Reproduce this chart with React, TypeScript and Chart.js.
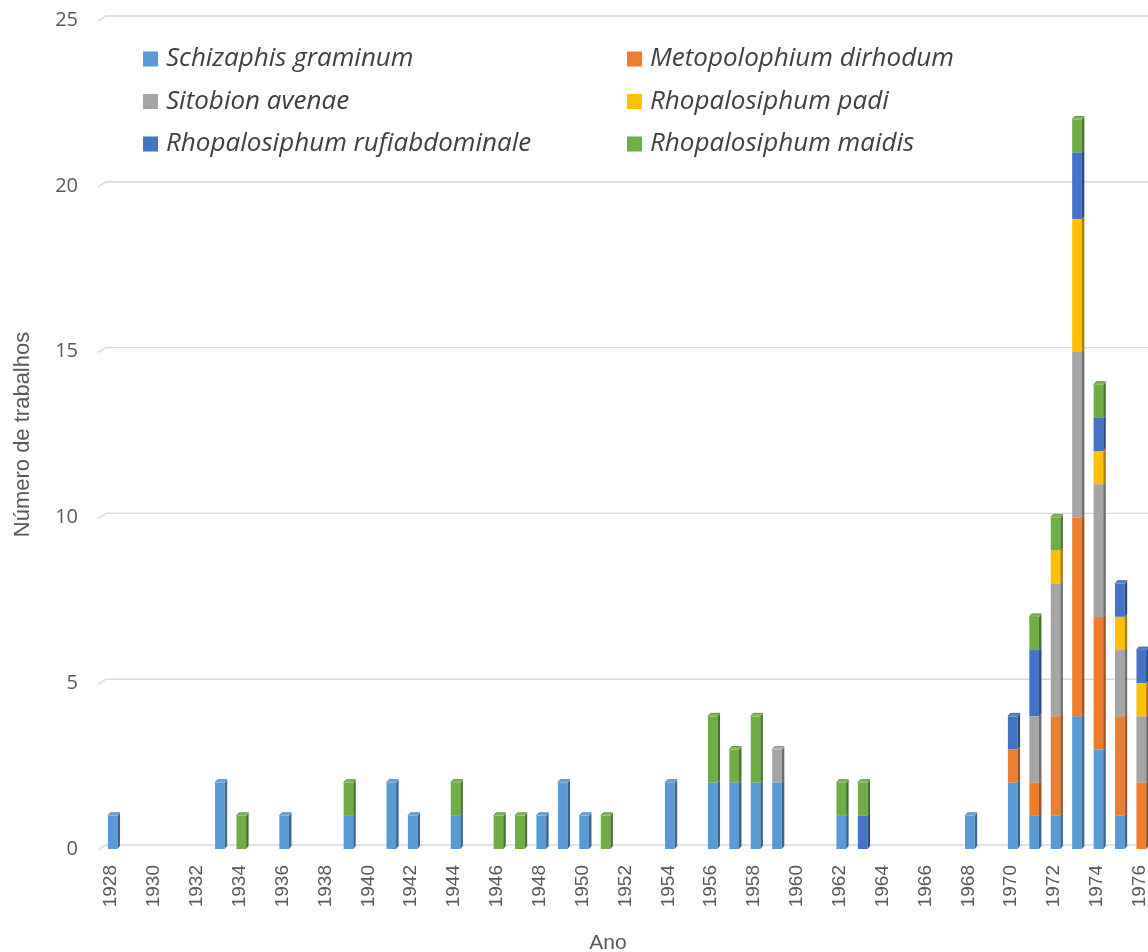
import React, { useEffect, useRef } from 'react';
import { Chart, registerables } from 'chart.js';

Chart.register(...registerables);

// Publication years, one category per year
const years = [
  '1928', '1929', '1930', '1931', '1932', '1933', '1934', '1935', '1936', '1937',
  '1938', '1939', '1940', '1941', '1942', '1943', '1944', '1945', '1946', '1947',
  '1948', '1949', '1950', '1951', '1952', '1953', '1954', '1955', '1956', '1957',
  '1958', '1959', '1960', '1961', '1962', '1963', '1964', '1965', '1966', '1967',
  '1968', '1969', '1970', '1971', '1972', '1973', '1974', '1975', '1976',
];

// Number of papers per aphid species and year (same order as years)
const schizaphisGraminum = [
  1, 0, 0, 0, 0, 2, 0, 0, 1, 0,
  0, 1, 0, 2, 1, 0, 1, 0, 0, 0,
  1, 2, 1, 0, 0, 0, 2, 0, 2, 2,
  2, 2, 0, 0, 1, 0, 0, 0, 0, 0,
  1, 0, 2, 1, 1, 4, 3, 1, 0,
];
const metopolophiumDirhodum = [
  0, 0, 0, 0, 0, 0, 0, 0, 0, 0,
  0, 0, 0, 0, 0, 0, 0, 0, 0, 0,
  0, 0, 0, 0, 0, 0, 0, 0, 0, 0,
  0, 0, 0, 0, 0, 0, 0, 0, 0, 0,
  0, 0, 1, 1, 3, 6, 4, 3, 2,
];
const sitobionAvenae = [
  0, 0, 0, 0, 0, 0, 0, 0, 0, 0,
  0, 0, 0, 0, 0, 0, 0, 0, 0, 0,
  0, 0, 0, 0, 0, 0, 0, 0, 0, 0,
  0, 1, 0, 0, 0, 0, 0, 0, 0, 0,
  0, 0, 0, 2, 4, 5, 4, 2, 2,
];
const rhopalosiphumPadi = [
  0, 0, 0, 0, 0, 0, 0, 0, 0, 0,
  0, 0, 0, 0, 0, 0, 0, 0, 0, 0,
  0, 0, 0, 0, 0, 0, 0, 0, 0, 0,
  0, 0, 0, 0, 0, 0, 0, 0, 0, 0,
  0, 0, 0, 0, 1, 4, 1, 1, 1,
];
const rhopalosiphumRufiabdominale = [
  0, 0, 0, 0, 0, 0, 0, 0, 0, 0,
  0, 0, 0, 0, 0, 0, 0, 0, 0, 0,
  0, 0, 0, 0, 0, 0, 0, 0, 0, 0,
  0, 0, 0, 0, 0, 1, 0, 0, 0, 0,
  0, 0, 1, 2, 0, 2, 1, 1, 1,
];
const rhopalosiphumMaidis = [
  0, 0, 0, 0, 0, 0, 1, 0, 0, 0,
  0, 1, 0, 0, 0, 0, 1, 0, 1, 1,
  0, 0, 0, 1, 0, 0, 0, 0, 2, 1,
  2, 0, 0, 0, 1, 1, 0, 0, 0, 0,
  0, 0, 0, 1, 1, 1, 1, 0, 0,
];

const speciesNames = [
  'Schizaphis graminum',
  'Metopolophium dirhodum',
  'Sitobion avenae',
  'Rhopalosiphum padi',
  'Rhopalosiphum rufiabdominale',
  'Rhopalosiphum maidis',
];
const speciesColors = ['#5b9bd5', '#ed7d31', '#a5a5a5', '#ffc000', '#4472c4', '#70ad47'];

const yTicks = { min: 0, max: 25, step: 5 };
const yTitle = 'Número de trabalhos';
const xTitle = 'Ano';

const DEPTH_X = 2.5;
const DEPTH_Y = 3;

function shade(hex: string, f: number): string {
  const n = parseInt(hex.slice(1), 16);
  const ch = (v: number) => Math.max(0, Math.min(255, Math.round(f >= 1 ? v + (255 - v) * (f - 1) : v * f)));
  const r = ch((n >> 16) & 255), g = ch((n >> 8) & 255), b = ch(n & 255);
  return `rgb(${r},${g},${b})`;
}

// Receding gridlines: short slanted floor edge, then the back-wall line
const wallGrid = {
  id: 'wallGrid',
  beforeDatasetsDraw(chart: any) {
    const { ctx, chartArea, scales } = chart;
    const ys = scales.y;
    ctx.save();
    ctx.strokeStyle = '#d9d9d9';
    ctx.lineWidth = 1.4;
    for (const t of ys.ticks) {
      const py = ys.getPixelForValue(t.value);
      ctx.beginPath();
      ctx.moveTo(chartArea.left - 4, py + 1);
      ctx.lineTo(chartArea.left + 4, py - 4);
      ctx.lineTo(chart.width, py - 4);
      ctx.stroke();
    }
    ctx.restore();
  },
};

// Side and top faces that give each stacked column its depth
const columnDepth = {
  id: 'columnDepth',
  afterDatasetsDraw(chart: any) {
    const { ctx } = chart;
    const datasets = chart.data.datasets;
    const count = chart.data.labels.length;
    ctx.save();
    for (let i = 0; i < count; i++) {
      let topIndex = -1;
      datasets.forEach((ds: any, d: number) => {
        if (ds.data[i] > 0) topIndex = d;
      });
      datasets.forEach((ds: any, d: number) => {
        if (!(ds.data[i] > 0)) return;
        const el = chart.getDatasetMeta(d).data[i];
        const { x, y, base, width } = el.getProps(['x', 'y', 'base', 'width'], true);
        const l = x - width / 2;
        const r = x + width / 2;
        const color = ds.backgroundColor as string;
        ctx.fillStyle = shade(color, 0.66);
        ctx.beginPath();
        ctx.moveTo(r, y);
        ctx.lineTo(r + DEPTH_X, y - DEPTH_Y);
        ctx.lineTo(r + DEPTH_X, base - DEPTH_Y);
        ctx.lineTo(r, base);
        ctx.closePath();
        ctx.fill();
        if (d === topIndex) {
          ctx.fillStyle = shade(color, 1.12);
          ctx.beginPath();
          ctx.moveTo(l, y);
          ctx.lineTo(l + DEPTH_X, y - DEPTH_Y);
          ctx.lineTo(r + DEPTH_X, y - DEPTH_Y);
          ctx.lineTo(r, y);
          ctx.closePath();
          ctx.fill();
          ctx.strokeStyle = shade(color, 0.75);
          ctx.lineWidth = 0.8;
          ctx.beginPath();
          ctx.moveTo(l, y);
          ctx.lineTo(l + DEPTH_X, y - DEPTH_Y);
          ctx.lineTo(r + DEPTH_X, y - DEPTH_Y);
          ctx.stroke();
        }
      });
    }
    ctx.restore();
  },
};

// Vertical year labels under the category axis (every second year)
const yearLabels = {
  id: 'yearLabels',
  afterDraw(chart: any) {
    const { ctx, chartArea, scales } = chart;
    const xs = scales.x;
    ctx.save();
    ctx.font = '19px "Liberation Sans", Arial, sans-serif';
    ctx.fillStyle = '#595959';
    ctx.textAlign = 'right';
    ctx.textBaseline = 'middle';
    years.forEach((yr, i) => {
      if (Number(yr) % 2 !== 0) return;
      const px = xs.getPixelForValue(i) - 1.5;
      ctx.save();
      ctx.translate(px, chartArea.bottom + 16);
      ctx.rotate(-Math.PI / 2);
      ctx.fillText(yr, 0, 0);
      ctx.restore();
    });
    ctx.restore();
  },
};

// Two-column legend inside the plot, plus the x-axis title
const insideLegend = {
  id: 'insideLegend',
  afterDraw(chart: any) {
    const { ctx } = chart;
    ctx.save();
    ctx.font = 'italic 26px "Open Sans"';
    ctx.textBaseline = 'alphabetic';
    ctx.textAlign = 'left';
    chart.data.datasets.forEach((ds: any, i: number) => {
      const col = i % 2;
      const row = Math.floor(i / 2);
      const sx = col === 0 ? 143 : 627;
      const cy = 59 + row * 42.5;
      ctx.fillStyle = ds.backgroundColor;
      ctx.fillRect(sx, cy - 7.5, 15, 15);
      ctx.fillStyle = '#404040';
      ctx.fillText(ds.label, sx + 23, cy + 7);
    });
    ctx.font = '21px "Liberation Sans", Arial, sans-serif';
    ctx.fillStyle = '#595959';
    ctx.textAlign = 'center';
    ctx.fillText(xTitle, 608, 949);
    ctx.restore();
  },
};

export default function App() {
  const canvasRef = useRef<HTMLCanvasElement | null>(null);

  useEffect(() => {
    const canvas = canvasRef.current;
    if (!canvas) return;
    const series = [
      schizaphisGraminum,
      metopolophiumDirhodum,
      sitobionAvenae,
      rhopalosiphumPadi,
      rhopalosiphumRufiabdominale,
      rhopalosiphumMaidis,
    ];
    const chart = new Chart(canvas, {
      type: 'bar',
      data: {
        labels: years,
        datasets: series.map((values, i) => ({
          label: speciesNames[i],
          data: values,
          backgroundColor: speciesColors[i],
          borderWidth: 0,
          barPercentage: 0.9,
          categoryPercentage: 0.5,
        })),
      },
      options: {
        responsive: false,
        animation: false,
        devicePixelRatio: 1,
        layout: { padding: { top: 20, right: 1, left: 0, bottom: 0 } },
        plugins: {
          legend: { display: false },
          tooltip: { enabled: false },
        },
        scales: {
          x: {
            stacked: true,
            grid: { display: false, drawTicks: false },
            border: { display: false },
            ticks: { display: false },
            afterFit: (s: any) => {
              s.height = 103;
              s.paddingLeft = 0;
              s.paddingRight = 0;
            },
          },
          y: {
            stacked: true,
            min: yTicks.min,
            max: yTicks.max,
            grid: { display: false, drawTicks: false },
            border: { display: false },
            ticks: {
              stepSize: yTicks.step,
              padding: 24,
              color: '#595959',
              font: { family: '"Open Sans"', size: 20 },
            },
            title: {
              display: true,
              text: yTitle,
              color: '#595959',
              font: { family: '"Liberation Sans", Arial, sans-serif', size: 22 },
              padding: { top: 10, bottom: 0 },
            },
            afterFit: (s: any) => {
              s.width = 102;
              s.paddingTop = 0;
              s.paddingBottom = 0;
            },
          },
        },
      },
      plugins: [wallGrid, columnDepth, yearLabels, insideLegend],
    });
    return () => chart.destroy();
  }, []);

  return (
    <div
      style={{
        position: 'fixed',
        left: 0,
        top: 0,
        width: 1148,
        height: 952,
        overflow: 'hidden',
        background: '#ffffff',
      }}
    >
      <canvas ref={canvasRef} width={1153} height={952} style={{ display: 'block' }} />
    </div>
  );
}
